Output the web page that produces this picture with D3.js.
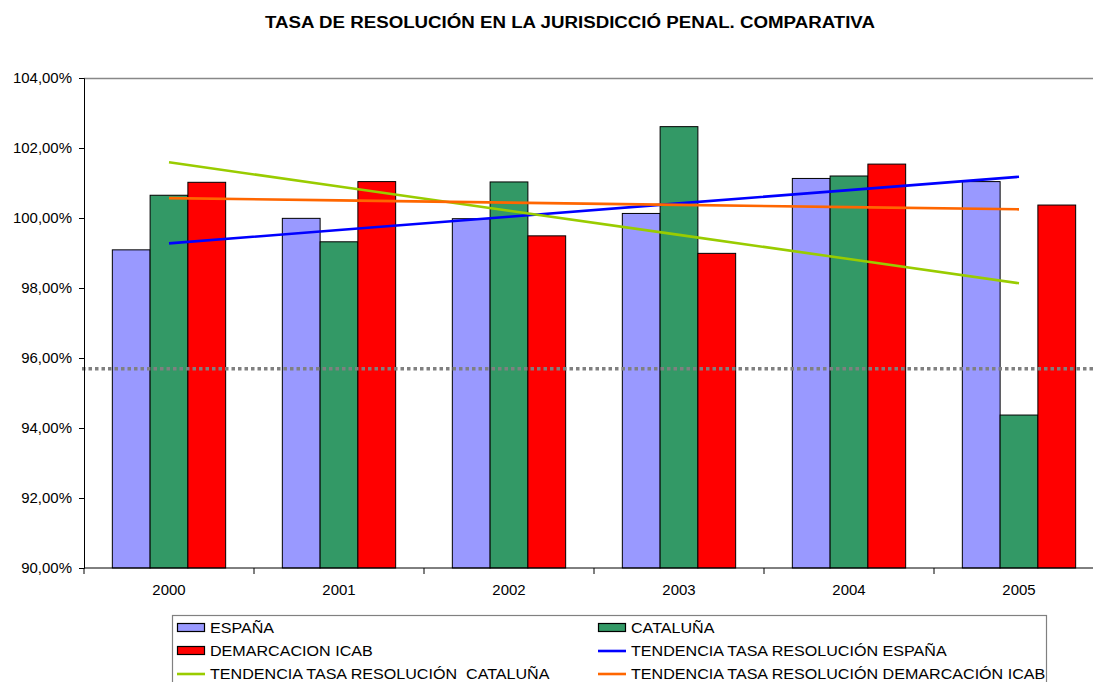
<!DOCTYPE html>
<html>
<head>
<meta charset="utf-8">
<script src="https://cdn.jsdelivr.net/npm/d3@7"></script>
<style>
  html, body { margin: 0; padding: 0; background: #fff; }
  svg { display: block; font-family: "Liberation Sans", Arial, sans-serif; }
</style>
</head>
<body>
<svg id="chart" width="1093" height="682"></svg>
<script>
// Years on the category axis
const years = ["2000", "2001", "2002", "2003", "2004", "2005"];

// Resolution rates (%) per jurisdiction
const espana = [99.09, 99.99, 99.98, 100.13, 101.13, 101.04];
const cataluna = [100.65, 99.32, 101.03, 102.61, 101.20, 94.37];
const icab = [101.02, 101.04, 99.49, 98.99, 101.54, 100.37];

// Horizontal reference level (%)
const referenceLevel = 95.69;

// Value axis ticks
const yTicks = [90, 92, 94, 96, 98, 100, 102, 104];

const barSeries = [
  { name: "ESPAÑA", values: espana, color: "#9999FF" },
  { name: "CATALUÑA", values: cataluna, color: "#339966" },
  { name: "DEMARCACION ICAB", values: icab, color: "#FF0000" }
];

// Linear least-squares trend of a series against its category index
function linearTrend(values) {
  const xs = values.map((_, i) => i);
  const mx = d3.mean(xs), my = d3.mean(values);
  let num = 0, den = 0;
  xs.forEach((x, i) => { num += (x - mx) * (values[i] - my); den += (x - mx) * (x - mx); });
  const slope = num / den;
  const intercept = my - slope * mx;
  return xs.map(x => intercept + slope * x);
}

const trendSeries = [
  { name: "TENDENCIA TASA RESOLUCIÓN ESPAÑA", values: linearTrend(espana), color: "#0000FF" },
  { name: "TENDENCIA TASA RESOLUCIÓN  CATALUÑA", values: linearTrend(cataluna), color: "#99CC00" },
  { name: "TENDENCIA TASA RESOLUCIÓN DEMARCACIÓN ICAB", values: linearTrend(icab), color: "#FF6600" }
];

const svg = d3.select("#chart");
const margin = { left: 84, top: 78, right: 1104, bottom: 568 };

const x = d3.scaleBand().domain(years).range([margin.left, margin.right]).paddingInner(0).paddingOuter(0);
const y = d3.scaleLinear().domain([90, 104]).range([margin.bottom, margin.top]);

const locale = d3.formatLocale({ decimal: ",", thousands: ".", grouping: [3], currency: ["", "€"] });
const pct = v => locale.format(".2f")(v) + "%";

// Text helper: glyphs slightly widened horizontally
function label(parent, px, py, txt, size, sx, anchor, bold) {
  return parent.append("text")
    .attr("transform", `translate(${px},${py}) scale(${sx},1)`)
    .attr("text-anchor", anchor)
    .attr("xml:space", "preserve")
    .style("font-size", size + "px")
    .style("font-weight", bold ? "bold" : "normal")
    .attr("fill", "#000")
    .text(txt);
}

// Title
label(svg, 570, 28, "TASA DE RESOLUCIÓN EN LA JURISDICCIÓ PENAL. COMPARATIVA", 17, 1.1, "middle", true);

// Plot area top border
svg.append("line")
  .attr("x1", margin.left).attr("x2", margin.right)
  .attr("y1", margin.top + 0.5).attr("y2", margin.top + 0.5)
  .attr("stroke", "#888").attr("stroke-width", 1.5);

// Bars: three per year, gap of 1.5 bar widths between groups
const step = x.bandwidth();
const barW = step / 4.5;
const groupOffset = (step - 3 * barW) / 2;

barSeries.forEach((s, si) => {
  svg.append("g").selectAll("rect")
    .data(s.values)
    .join("rect")
    .attr("x", (d, i) => x(years[i]) + groupOffset + si * barW)
    .attr("y", d => y(d))
    .attr("width", barW)
    .attr("height", d => y(90) - y(d))
    .attr("fill", s.color)
    .attr("stroke", "#000")
    .attr("stroke-width", 1);
});

// Reference level, dotted
svg.append("line")
  .attr("x1", margin.left - 2).attr("x2", 1093)
  .attr("y1", y(referenceLevel)).attr("y2", y(referenceLevel))
  .attr("stroke", "#808080").attr("stroke-width", 3.5)
  .attr("stroke-dasharray", "3.5,3");

// Trend lines
const line = d3.line()
  .x((d, i) => x(years[i]) + step / 2)
  .y(d => y(d));

trendSeries.forEach(s => {
  svg.append("path")
    .datum(s.values)
    .attr("d", line)
    .attr("fill", "none")
    .attr("stroke", s.color)
    .attr("stroke-width", 2.6);
});

// Y axis
const yAxis = d3.axisLeft(y).tickValues(yTicks).tickFormat("").tickSizeOuter(0).tickSize(5);
const gy = svg.append("g").attr("transform", `translate(${margin.left},0)`).call(yAxis);
gy.select(".domain").attr("stroke", "#000");
gy.selectAll(".tick line").attr("stroke", "#000");
yTicks.forEach(t => label(svg, 72, y(t) + 5, pct(t), 14, 1.07, "end", false));

// X axis with ticks between categories
const gx = svg.append("g").attr("transform", `translate(0,${margin.bottom})`);
gx.append("line")
  .attr("x1", margin.left).attr("x2", margin.right)
  .attr("stroke", "#000").attr("stroke-width", 1);
const boundaries = years.map(yr => x(yr)).concat([margin.right]);
gx.selectAll("line.tk").data(boundaries).join("line")
  .attr("class", "tk")
  .attr("x1", d => d).attr("x2", d => d)
  .attr("y1", 0).attr("y2", 6)
  .attr("stroke", "#000");
years.forEach(yr => label(gx, x(yr) + step / 2, 27, yr, 14, 1.07, "middle", false));

// Legend
const legend = svg.append("g");
legend.append("rect")
  .attr("x", 172.5).attr("y", 615.5)
  .attr("width", 874).attr("height", 80)
  .attr("fill", "#fff").attr("stroke", "#808080").attr("stroke-width", 1.2);

const legendItems = [
  { label: barSeries[0].name, color: barSeries[0].color, type: "bar", col: 0, row: 0 },
  { label: barSeries[1].name, color: barSeries[1].color, type: "bar", col: 1, row: 0 },
  { label: barSeries[2].name, color: barSeries[2].color, type: "bar", col: 0, row: 1 },
  { label: trendSeries[0].name, color: trendSeries[0].color, type: "line", col: 1, row: 1 },
  { label: trendSeries[1].name, color: trendSeries[1].color, type: "line", col: 0, row: 2 },
  { label: trendSeries[2].name, color: trendSeries[2].color, type: "line", col: 1, row: 2 }
];
const colX = [177, 598];
const rowY = [628, 651, 674];

legendItems.forEach(it => {
  const gx0 = colX[it.col], cy = rowY[it.row];
  if (it.type === "bar") {
    legend.append("rect")
      .attr("x", gx0 + 0.5).attr("y", cy - 4.5)
      .attr("width", 27).attr("height", 8)
      .attr("fill", it.color).attr("stroke", "#000").attr("stroke-width", 1.2);
  } else {
    legend.append("line")
      .attr("x1", gx0).attr("x2", gx0 + 28)
      .attr("y1", cy).attr("y2", cy)
      .attr("stroke", it.color).attr("stroke-width", 2.6);
  }
  label(legend, gx0 + 33, cy + 5, it.label, 14, 1.15, "start", false);
});
</script>
</body>
</html>
